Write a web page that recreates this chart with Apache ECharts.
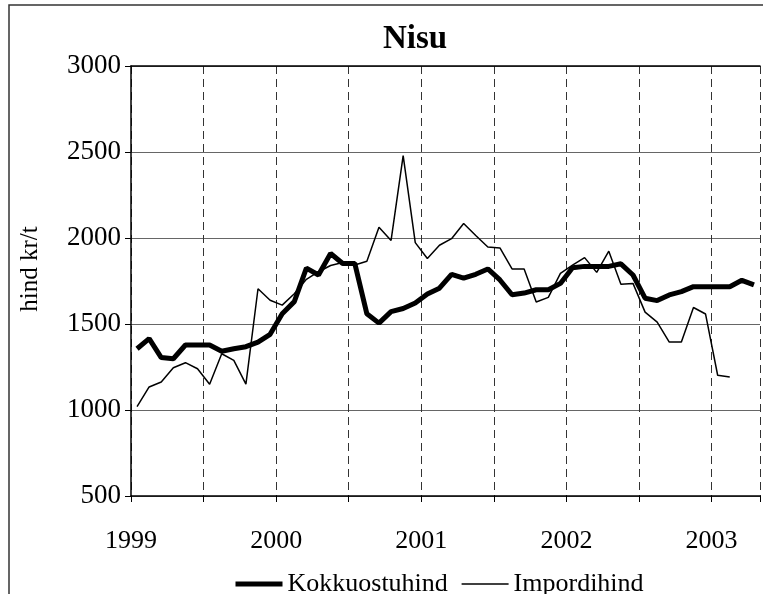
<!DOCTYPE html>
<html>
<head>
<meta charset="utf-8">
<script src="https://cdn.jsdelivr.net/npm/echarts@6/dist/echarts.min.js"></script>
<style>
  html, body { margin: 0; padding: 0; background: #fff; }
  #chart { width: 763px; height: 594px; }
</style>
</head>
<body>
<div id="chart"></div>
<script>
// monthly prices from Jan 1999, kr/t
const startYear = 1999;
const kokkuostuhind = [
  1356, 1415, 1305, 1298, 1378, 1378, 1378, 1342, 1356, 1368, 1395, 1440,
  1560, 1630, 1825, 1785, 1910, 1852, 1852, 1559, 1505, 1572, 1590, 1622,
  1674, 1708, 1789, 1766, 1789, 1820, 1756, 1670, 1680, 1699, 1699, 1736,
  1827, 1835, 1835, 1835, 1850, 1785, 1650, 1636, 1669, 1688, 1717, 1717,
  1717, 1717, 1754, 1727
];
const impordihind = [
  1020, 1134, 1163, 1246, 1275, 1240, 1150, 1327, 1288, 1150, 1705, 1638,
  1610, 1676, 1760, 1804, 1840, 1858, 1843, 1865, 2063, 1986, 2479, 1973,
  1881, 1958, 1996, 2084, 2015, 1948, 1942, 1820, 1820, 1628, 1655, 1794,
  1842, 1886, 1800, 1923, 1731, 1736, 1569, 1511, 1395, 1395, 1596, 1558,
  1202, 1192
];
const seriesNames = ["Kokkuostuhind", "Impordihind"];
const lineWidths = [5, 1.5];

// points sit in the middle of their month
const toPoints = arr => arr.map((v, i) => [i + 0.5, v]);

const font = "Liberation Serif";
const chart = echarts.init(document.getElementById("chart"), null, { renderer: "canvas" });

chart.setOption({
  animation: false,
  backgroundColor: "#fff",
  textStyle: { fontFamily: font, color: "#000" },
  title: {
    text: "Nisu",
    left: 410,
    top: 18,
    textAlign: "center",
    textStyle: { fontFamily: font, fontSize: 33, fontWeight: "bold", color: "#000" }
  },
  graphic: [{
    type: "rect",
    shape: { x: 9, y: 5, width: 900, height: 800 },
    style: { fill: "none", stroke: "#333", lineWidth: 1.5 },
    silent: true,
    z: -1
  }],
  legend: {
    data: seriesNames.map((n, i) => ({
      name: n,
      lineStyle: { width: lineWidths[i], color: "#000" },
      itemStyle: { opacity: 0 }
    })),
    left: 228,
    top: 566,
    itemWidth: 47,
    itemHeight: 14,
    itemGap: 13,
    textStyle: { fontFamily: font, fontSize: 26, color: "#000" }
  },
  grid: { left: 131, top: 66, right: 0, bottom: 98 },
  xAxis: [
    {
      type: "value",
      min: 0, max: 52, interval: 6,
      axisLine: { lineStyle: { color: "#000", width: 1.5 } },
      axisTick: { show: true, length: 6, lineStyle: { color: "#000" } },
      axisLabel: {
        fontFamily: font, fontSize: 26, color: "#000", margin: 32,
        formatter: v => (v % 12 === 0 ? String(startYear + v / 12) : "")
      },
      splitLine: { show: true, lineStyle: { color: "#333", type: [8, 5], width: 1 } }
    },
    {
      // plot-area top edge
      type: "value",
      position: "top",
      min: 0, max: 52,
      axisLine: { show: true, lineStyle: { color: "#000", width: 1.5 } },
      axisTick: { show: false },
      axisLabel: { show: false },
      splitLine: { show: false }
    }
  ],
  yAxis: {
    type: "value",
    min: 500, max: 3000, interval: 500,
    name: "hind kr/t",
    nameLocation: "middle",
    nameRotate: 90,
    nameGap: 88,
    nameTextStyle: { fontFamily: font, fontSize: 25, color: "#000", padding: [0, 0, 0, 24] },
    axisLine: { show: true, lineStyle: { color: "#000", width: 1.5 } },
    axisTick: { show: true, length: 6, lineStyle: { color: "#000" } },
    axisLabel: { fontFamily: font, fontSize: 27, color: "#000", margin: 10, formatter: v => String(v) },
    splitLine: { show: true, lineStyle: { color: "#666", width: 1.2 } }
  },
  series: [
    {
      name: seriesNames[0],
      type: "line",
      data: toPoints(kokkuostuhind),
      symbol: "none",
      lineStyle: { color: "#000", width: lineWidths[0] },
      itemStyle: { color: "#000" },
      z: 3
    },
    {
      name: seriesNames[1],
      type: "line",
      data: toPoints(impordihind),
      symbol: "none",
      lineStyle: { color: "#000", width: lineWidths[1] },
      itemStyle: { color: "#000" },
      z: 2
    }
  ]
});
</script>
</body>
</html>
